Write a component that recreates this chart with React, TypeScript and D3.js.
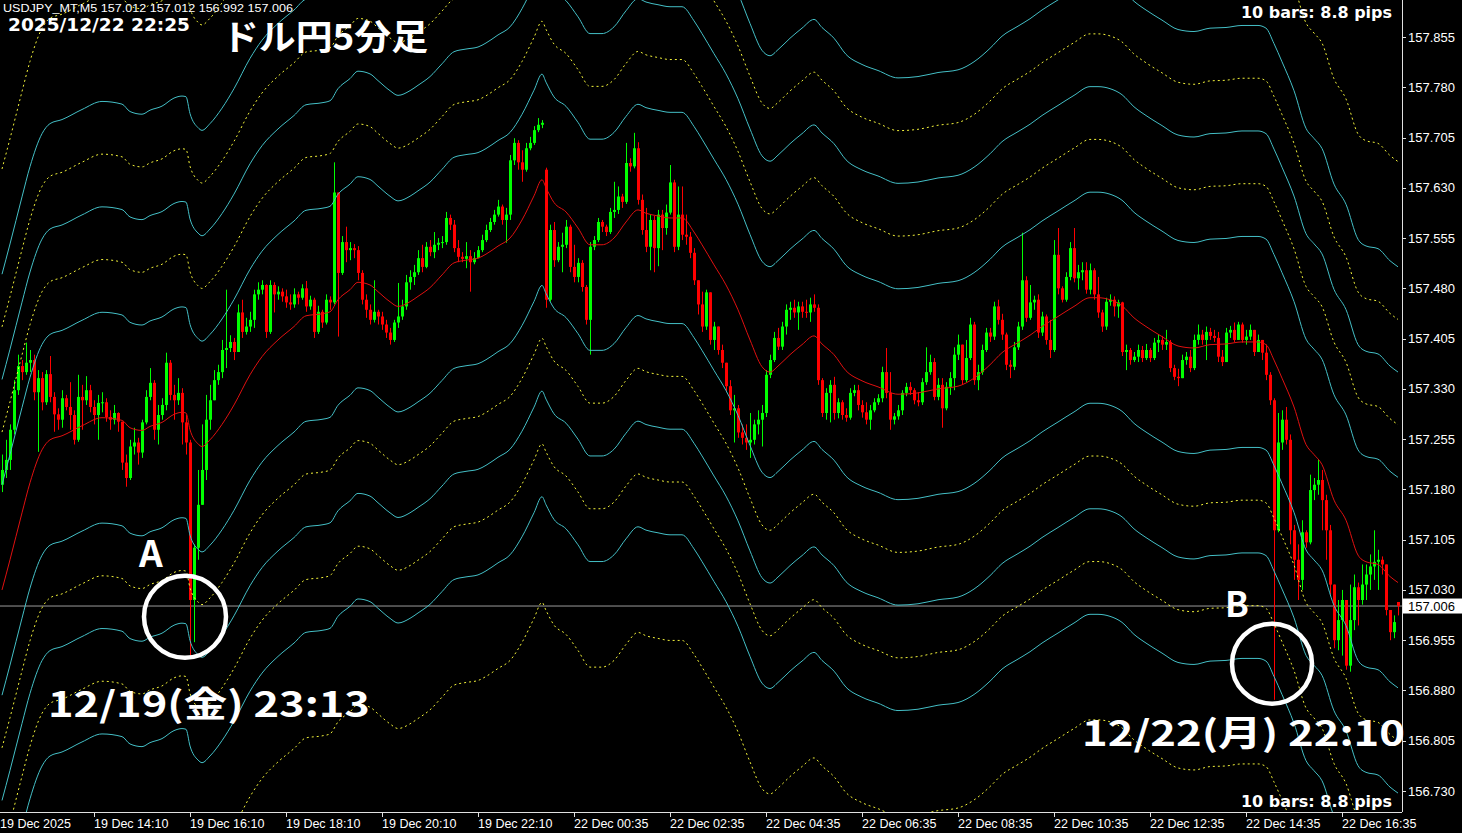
import * as d3 from "d3"

// USDJPY M5, prices stored as points (0.001 yen) above 157.000
const BASE = 157

const closePts = [
  209, 224, 269, 328, 364, 355, 369, 373, 325, 346,
  310, 352, 318, 292, 284, 316, 303, 291, 254, 318,
  313, 328, 303, 291, 309, 310, 288, 284, 294, 281,
  220, 197, 244, 250, 235, 280, 318, 339, 269, 291,
  306, 369, 321, 313, 324, 280, 250, 15, 93, 157,
  209, 284, 313, 343, 355, 388, 391, 400, 385, 444,
  415, 423, 433, 471, 478, 485, 415, 485, 471, 475,
  468, 459, 456, 471, 466, 480, 453, 463, 415, 445,
  429, 463, 459, 623, 503, 549, 537, 540, 537, 503,
  463, 448, 433, 445, 438, 426, 414, 403, 429, 438,
  453, 489, 497, 504, 525, 512, 542, 534, 545, 548,
  549, 585, 575, 540, 527, 524, 528, 519, 525, 537,
  552, 567, 579, 590, 602, 582, 590, 671, 697, 668,
  657, 689, 697, 716, 724, 727, 463, 567, 522, 542,
  545, 572, 512, 497, 518, 482, 433, 542, 552, 579,
  572, 564, 594, 597, 617, 609, 667, 662, 689, 612,
  567, 542, 582, 540, 590, 570, 593, 638, 542, 590,
  560, 557, 533, 492, 456, 423, 474, 403, 423, 388,
  369, 334, 298, 301, 265, 257, 250, 254, 277, 284,
  294, 351, 373, 406, 393, 423, 448, 451, 444, 453,
  445, 444, 456, 451, 343, 294, 324, 336, 294, 310,
  291, 287, 324, 328, 306, 295, 284, 298, 310, 316,
  355, 324, 284, 289, 298, 324, 333, 328, 313, 310,
  340, 355, 370, 318, 336, 301, 333, 346, 381, 396,
  343, 376, 426, 343, 355, 388, 414, 408, 453, 433,
  411, 366, 363, 392, 423, 492, 436, 459, 463, 414,
  438, 403, 388, 530, 480, 463, 497, 540, 495, 504,
  507, 478, 507, 471, 444, 423, 460, 463, 453, 459,
  385, 388, 373, 378, 388, 376, 388, 376, 399, 403,
  396, 400, 361, 348, 346, 373, 378, 361, 403, 411,
  403, 415, 409, 406, 378, 370, 414, 418, 403, 426,
  403, 408, 418, 385, 403, 384, 351, 313, 119, 250,
  284, 254, 119, 75, 45, 116, 101, 179, 187, 194,
  164, 119, 38, -45, -15, 15, -83, -15, 34, 15,
  38, 53, 65, 72, 75, 68, 0, -33, -18, 6,
]

const highPts = [
  232, 254, 277, 343, 381, 373, 399, 388, 381, 358,
  355, 358, 379, 325, 301, 328, 321, 340, 298, 351,
  336, 349, 336, 313, 321, 325, 316, 298, 306, 295,
  272, 232, 254, 272, 257, 284, 328, 361, 343, 306,
  316, 384, 373, 336, 346, 331, 291, 254, 98, 209,
  277, 321, 336, 358, 366, 403, 478, 410, 406, 456,
  463, 436, 445, 478, 489, 492, 486, 492, 489, 483,
  480, 478, 471, 480, 475, 486, 491, 469, 466, 454,
  448, 471, 468, 668, 620, 558, 572, 549, 546, 543,
  507, 471, 456, 492, 448, 445, 433, 421, 433, 488,
  463, 500, 507, 515, 537, 545, 549, 552, 564, 555,
  558, 594, 590, 582, 552, 534, 549, 537, 534, 543,
  560, 575, 585, 597, 612, 605, 600, 679, 704, 701,
  686, 697, 706, 722, 734, 731, 660, 575, 579, 549,
  563, 582, 575, 545, 525, 522, 485, 549, 558, 585,
  582, 575, 600, 639, 632, 621, 697, 674, 712, 698,
  620, 600, 590, 588, 597, 597, 605, 664, 642, 632,
  632, 590, 564, 540, 492, 475, 478, 471, 430, 421,
  396, 361, 343, 321, 306, 277, 277, 294, 284, 298,
  306, 358, 381, 415, 421, 430, 456, 460, 463, 460,
  460, 463, 466, 471, 456, 346, 331, 343, 348, 316,
  313, 301, 331, 336, 336, 313, 310, 306, 316, 322,
  363, 391, 355, 294, 306, 328, 339, 340, 331, 325,
  346, 392, 381, 376, 346, 346, 340, 355, 392, 411,
  388, 403, 436, 430, 366, 396, 421, 421, 460, 463,
  442, 414, 373, 400, 430, 563, 498, 485, 469, 471,
  445, 441, 433, 552, 570, 483, 504, 549, 570, 515,
  519, 519, 517, 510, 497, 448, 466, 471, 468, 463,
  460, 396, 391, 385, 396, 394, 397, 391, 406, 411,
  409, 418, 403, 366, 360, 381, 385, 388, 411, 426,
  418, 423, 421, 418, 415, 388, 421, 424, 429, 430,
  429, 418, 426, 418, 411, 403, 396, 355, 316, 294,
  298, 303, 262, 127, 98, 134, 119, 202, 197, 224,
  209, 172, 127, 38, 15, 30, 0, 38, 53, 41,
  68, 68, 83, 119, 90, 80, 68, 0, -8, 12,
]

const lowPts = [
  176, 197, 209, 262, 321, 343, 351, 355, 313, 236,
  298, 306, 310, 266, 269, 272, 298, 269, 247, 251,
  269, 306, 295, 277, 254, 295, 281, 269, 277, 266,
  209, 184, 194, 232, 217, 227, 277, 313, 254, 247,
  284, 298, 313, 284, 306, 247, 232, -68, -48, 75,
  172, 194, 269, 313, 336, 346, 361, 385, 373, 385,
  406, 411, 415, 421, 463, 471, 406, 412, 444, 463,
  460, 451, 448, 451, 456, 463, 445, 448, 406, 412,
  421, 426, 448, 456, 408, 500, 519, 522, 525, 492,
  456, 436, 426, 429, 426, 418, 406, 396, 400, 421,
  433, 448, 478, 485, 500, 504, 510, 528, 525, 537,
  540, 545, 567, 534, 519, 519, 510, 475, 516, 525,
  534, 549, 564, 575, 587, 575, 548, 582, 664, 657,
  639, 654, 686, 694, 713, 719, 451, 460, 512, 519,
  504, 540, 504, 489, 489, 475, 426, 381, 537, 549,
  564, 558, 561, 585, 591, 600, 606, 654, 659, 605,
  560, 534, 507, 504, 513, 537, 560, 590, 534, 537,
  552, 545, 525, 485, 441, 415, 418, 396, 388, 381,
  361, 325, 291, 250, 257, 247, 239, 227, 247, 262,
  244, 288, 346, 370, 388, 388, 411, 433, 436, 418,
  436, 436, 430, 445, 336, 288, 284, 280, 284, 286,
  284, 281, 284, 319, 298, 287, 277, 269, 295, 306,
  310, 316, 269, 277, 284, 291, 319, 321, 307, 304,
  306, 336, 351, 313, 313, 272, 298, 321, 328, 373,
  336, 340, 373, 336, 328, 351, 385, 400, 403, 426,
  403, 358, 346, 358, 388, 418, 430, 433, 448, 406,
  409, 396, 376, 385, 471, 459, 460, 492, 489, 478,
  492, 472, 471, 463, 436, 415, 418, 454, 438, 436,
  379, 358, 366, 370, 370, 370, 373, 370, 373, 385,
  388, 388, 355, 343, 334, 346, 366, 355, 358, 396,
  396, 373, 403, 400, 370, 364, 373, 406, 400, 406,
  399, 396, 403, 379, 385, 373, 343, 306, -134, 116,
  239, 247, 98, 45, 15, 30, 93, 98, 164, 172,
  119, 75, 23, -57, -60, -68, -89, -92, -30, -23,
  8, 15, 30, 45, 30, 53, -8, -45, -42, -8,
]

// bars whose open is not the previous close (first bar, weekend gap, live bar)
const openOverrides: [number, number][] = [[0, 187], [136, 657], [349, 12]]

// moving average (red), sampled at these bars
const maBars = [
  0, 2, 5, 7, 10, 12, 15, 20, 25, 30, 32, 35, 37, 40, 43, 45, 46, 47, 49, 50,
  52, 55, 58, 62, 65, 69, 73, 76, 80, 82, 84, 87, 89, 92, 94, 97, 99, 102, 104, 107,
  110, 113, 116, 119, 121, 124, 127, 130, 133, 135, 136, 138, 141, 144, 147, 150, 153, 156, 159, 161,
  164, 167, 170, 173, 175, 178, 181, 184, 187, 190, 192, 194, 197, 200, 203, 205, 208, 211, 215, 219,
  224, 229, 234, 239, 243, 247, 250, 254, 257, 260, 264, 268, 272, 274, 277, 280, 283, 286, 290, 294,
  298, 302, 306, 310, 314, 316, 318, 320, 323, 326, 328, 330, 333, 336, 339, 341, 344, 347, 349,
]
const maPts = [
  30, 75, 145, 190, 239, 254, 260, 275, 287, 283, 272, 268, 274, 280, 292, 295, 294, 269, 248, 244,
  254, 277, 306, 351, 378, 403, 423, 439, 442, 445, 463, 478, 489, 485, 475, 460, 453, 460, 468, 481,
  500, 518, 522, 525, 531, 543, 555, 582, 618, 642, 630, 608, 594, 570, 545, 545, 555, 579, 597, 592,
  588, 585, 585, 564, 545, 515, 485, 448, 403, 363, 355, 364, 381, 396, 409, 397, 381, 357, 342, 333,
  322, 324, 330, 334, 346, 366, 384, 399, 410, 423, 438, 453, 466, 466, 463, 454, 436, 423, 408, 394,
  391, 396, 397, 400, 400, 396, 373, 346, 303, 247, 232, 217, 164, 134, 82, 72, 68, 50, 41,
]

// envelope deviations around the MA, in percent (drawn above and below)
const envLevels = [0.1, 0.15, 0.2, 0.25, 0.3, 0.4]

const priceTicks = [
  157.855, 157.78, 157.705, 157.63, 157.555, 157.48, 157.405, 157.33,
  157.255, 157.18, 157.105, 157.03, 156.955, 156.88, 156.805, 156.73,
]
const bidPrice = 157.006

const timeTickBars = [-0.5, 23, 47, 71, 95, 119, 143, 167, 191, 215, 239, 263, 287, 311, 335]
const timeTickLabels = [
  "19 Dec 2025", "19 Dec 14:10", "19 Dec 16:10", "19 Dec 18:10", "19 Dec 20:10", "19 Dec 22:10",
  "22 Dec 00:35", "22 Dec 02:35", "22 Dec 04:35", "22 Dec 06:35", "22 Dec 08:35", "22 Dec 10:35",
  "22 Dec 12:35", "22 Dec 14:35", "22 Dec 16:35",
]

const W = 1462
const H = 833
const PLOT_R = 1402
const PLOT_B = 812

const AXIS_FONT = "'Liberation Sans', Arial, sans-serif"
const BOLD_FONT = "'DejaVu Sans', Verdana, sans-serif"
const JP_FONT = "'Noto Sans CJK JP', 'Noto Sans', sans-serif"

const CYAN = "#44bfc6"
const YELLOW = "#f2f23a"

const xScale = d3.scaleLinear().domain([0, 349]).range([2, 1398])
const yScale = d3.scaleLinear().domain([156.73, 157.855]).range([791, 37])
const toPrice = (p: number) => BASE + p / 1000

export default function App() {
  const overrides = new Map(openOverrides)

  const candles = closePts.map((c, i) => {
    const o = overrides.has(i) ? (overrides.get(i) as number) : closePts[i - 1]
    const hi = Math.max(highPts[i], o, c)
    const lo = Math.min(lowPts[i], o, c)
    return { i, o: toPrice(o), c: toPrice(c), h: toPrice(hi), l: toPrice(lo) }
  })

  const maSeries: [number, number][] = maBars.map((b, j) => [b, toPrice(maPts[j])])
  const line = d3
    .line<[number, number]>()
    .x((d) => xScale(d[0]))
    .y((d) => yScale(d[1]))
    .curve(d3.curveMonotoneX)

  // each level gives an upper and a lower band; colours alternate cyan / yellow dotted
  const bands = envLevels.flatMap((lvl, j) =>
    [1, -1].map((sign) => ({
      key: `${j}_${sign}`,
      dotted: j % 2 === 1,
      d: line(maSeries.map(([b, p]) => [b, p * (1 + (sign * lvl) / 100)] as [number, number])) || "",
    })),
  )

  const circleA = { cx: xScale(47) - 5, cy: yScale(156.99), r: 41 }
  const circleB = { cx: xScale(318) - 2, cy: yScale(156.92), r: 40 }

  return (
    <div style={{ position: "fixed", left: 0, top: 0, width: W, height: H, background: "#000" }}>
      <svg width={W} height={H} style={{ display: "block", background: "#000" }}>
        <defs>
          <clipPath id="plot">
            <rect x={0} y={0} width={PLOT_R} height={PLOT_B} />
          </clipPath>
        </defs>

        <g clipPath="url(#plot)">
          {/* bid line */}
          <line x1={0} x2={PLOT_R} y1={yScale(bidPrice)} y2={yScale(bidPrice)} stroke="#9a9a9a" strokeWidth={1} />

          {/* candles */}
          {candles.map((d) => {
            const x = Math.round(xScale(d.i))
            const up = d.c > d.o
            const col = up ? "#00ff00" : "#ff0000"
            const yTop = yScale(Math.max(d.o, d.c))
            const yBot = yScale(Math.min(d.o, d.c))
            return (
              <g key={d.i}>
                <line x1={x + 0.5} x2={x + 0.5} y1={yScale(d.h)} y2={yScale(d.l)} stroke={col} strokeWidth={1} />
                <rect x={x - 1} y={yTop} width={3} height={Math.max(1, yBot - yTop)} fill={col} />
              </g>
            )
          })}

          {/* envelopes */}
          {bands.map((b) =>
            b.dotted ? (
              <path key={b.key} d={b.d} fill="none" stroke={YELLOW} strokeWidth={1} strokeDasharray="2 3" />
            ) : (
              <path key={b.key} d={b.d} fill="none" stroke={CYAN} strokeWidth={1} />
            ),
          )}

          {/* moving average */}
          <path d={line(maSeries) || ""} fill="none" stroke="#e01010" strokeWidth={1} />
        </g>

        {/* axes */}
        <line x1={PLOT_R + 0.5} x2={PLOT_R + 0.5} y1={0} y2={PLOT_B} stroke="#e0e0e0" />
        <line x1={0} x2={PLOT_R} y1={PLOT_B + 0.5} y2={PLOT_B + 0.5} stroke="#e0e0e0" />

        {priceTicks.map((p) => (
          <g key={p}>
            <line x1={PLOT_R} x2={PLOT_R + 4} y1={Math.round(yScale(p)) + 0.5} y2={Math.round(yScale(p)) + 0.5} stroke="#e0e0e0" />
            <text x={PLOT_R + 6} y={yScale(p)} dy="0.35em" fill="#ffffff" fontFamily={AXIS_FONT} fontSize={13}>
              {p.toFixed(3)}
            </text>
          </g>
        ))}

        <rect x={PLOT_R + 1} y={yScale(bidPrice) - 7.5} width={W - PLOT_R - 1} height={15} fill="#ffffff" />
        <text x={PLOT_R + 6} y={yScale(bidPrice)} dy="0.35em" fill="#000000" fontFamily={AXIS_FONT} fontSize={13}>
          {bidPrice.toFixed(3)}
        </text>

        {timeTickBars.map((b, j) => {
          const x = Math.round(xScale(b))
          return (
            <g key={b}>
              {j > 0 && <line x1={x + 0.5} x2={x + 0.5} y1={PLOT_B} y2={PLOT_B + 5} stroke="#e0e0e0" />}
              <text x={x} y={828} fill="#ffffff" fontFamily={AXIS_FONT} fontSize={12.5}>
                {timeTickLabels[j]}
              </text>
            </g>
          )
        })}

        {/* header texts */}
        <text x={3} y={12} fill="#ffffff" fontFamily={AXIS_FONT} fontSize={11.5} textLength={290} lengthAdjust="spacingAndGlyphs">
          USDJPY_MT,M5  157.012 157.012 156.992 157.006
        </text>
        <text x={8} y={31} fill="#ffffff" fontFamily={BOLD_FONT} fontWeight="bold" fontSize={18} textLength={182} lengthAdjust="spacingAndGlyphs">
          2025/12/22 22:25
        </text>
        <text x={222} y={50} fill="#ffffff" fontFamily={JP_FONT} fontWeight="bold" fontSize={35} textLength={206} lengthAdjust="spacingAndGlyphs">
          ドル円5分足
        </text>
        <text x={1241} y={18} fill="#ffffff" fontFamily={BOLD_FONT} fontWeight="bold" fontSize={15} textLength={151} lengthAdjust="spacingAndGlyphs">
          10 bars: 8.8 pips
        </text>
        <text x={1241} y={807} fill="#ffffff" fontFamily={BOLD_FONT} fontWeight="bold" fontSize={15} textLength={151} lengthAdjust="spacingAndGlyphs">
          10 bars: 8.8 pips
        </text>

        {/* annotations */}
        <text x={139} y={567} fill="#ffffff" fontFamily={JP_FONT} fontWeight="bold" fontSize={37}>
          A
        </text>
        <circle cx={circleA.cx} cy={circleA.cy} r={circleA.r} fill="none" stroke="#ffffff" strokeWidth={4.5} />
        <text x={48} y={717} fill="#ffffff" fontFamily={JP_FONT} fontWeight="bold" fontSize={35} textLength={322} lengthAdjust="spacingAndGlyphs">
          12/19(金) 23:13
        </text>

        <text x={1225} y={617} fill="#ffffff" fontFamily={JP_FONT} fontWeight="bold" fontSize={35}>
          B
        </text>
        <circle cx={circleB.cx} cy={circleB.cy} r={circleB.r} fill="none" stroke="#ffffff" strokeWidth={4.5} />
        <text x={1082} y={746} fill="#ffffff" fontFamily={JP_FONT} fontWeight="bold" fontSize={35} textLength={323} lengthAdjust="spacingAndGlyphs">
          12/22(月) 22:10
        </text>
      </svg>
    </div>
  )
}
